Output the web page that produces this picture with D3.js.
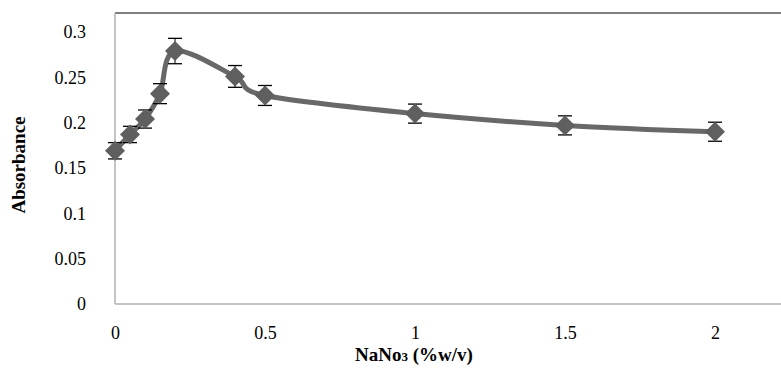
<!DOCTYPE html>
<html>
<head>
<meta charset="utf-8">
<script src="https://cdn.jsdelivr.net/npm/d3@7"></script>
<style>
  body { margin: 0; background: #fff; }
  svg text { font-family: "Liberation Serif", "Times New Roman", Times, "DejaVu Serif", serif !important; }
</style>
</head>
<body>
<div id="chart"></div>
<script>
const width = 781;
const height = 369;

// data
const nano3 = [0, 0.05, 0.1, 0.15, 0.2, 0.4, 0.5, 1, 1.5, 2];
const absorbance = [0.169, 0.187, 0.204, 0.232, 0.279, 0.251, 0.23, 0.21, 0.197, 0.19];
const errors = [0.009, 0.009, 0.01, 0.011, 0.014, 0.012, 0.011, 0.0105, 0.0105, 0.0105];
const xTicks = [0, 0.5, 1, 1.5, 2];
const yTicks = [0, 0.05, 0.1, 0.15, 0.2, 0.25, 0.3];

const plotLeft = 115;
const plotTop = 13;
const plotBottom = 304;

const x = d3.scaleLinear().domain([0, 2]).range([plotLeft, 715]);
const y = d3.scaleLinear().domain([0, 0.3]).range([plotBottom, 32]);

const svg = d3
  .select('#chart')
  .append('svg')
  .attr('width', width)
  .attr('height', height);

// frame: dark top edge, light axes
svg.append('line')
  .attr('x1', plotLeft).attr('x2', width)
  .attr('y1', plotTop).attr('y2', plotTop)
  .attr('stroke', '#555').attr('stroke-width', 1.5);

const xAxis = svg.append('g')
  .attr('transform', `translate(0,${plotBottom})`)
  .call(d3.axisBottom(x).tickValues(xTicks).tickSize(0).tickPadding(22).tickFormat(d3.format('')));
xAxis.select('.domain').remove();
xAxis.append('line')
  .attr('x1', plotLeft).attr('x2', width)
  .attr('stroke', '#b0b0b0').attr('stroke-width', 1.5);

const yAxis = svg.append('g')
  .attr('transform', `translate(${plotLeft},0)`)
  .call(d3.axisLeft(y).tickValues(yTicks).tickSize(0).tickPadding(29).tickFormat(d3.format('')));
yAxis.select('.domain').remove();
yAxis.append('line')
  .attr('y1', plotTop).attr('y2', plotBottom)
  .attr('stroke', '#b0b0b0').attr('stroke-width', 1.5);

svg.selectAll('g').attr('font-family', null).attr('font-size', null);
svg.selectAll('.tick text')
  .style('font-size', '18px')
  .attr('fill', '#000');

// titles
svg.append('text')
  .attr('x', 414).attr('y', 361)
  .attr('text-anchor', 'middle')
  .style('font-size', '19px').style('font-weight', 'bold')
  .html('NaNo<tspan font-size="13px">3</tspan> (%w/v)');

svg.append('text')
  .attr('transform', 'translate(25,165) rotate(-90)')
  .attr('text-anchor', 'middle')
  .style('font-size', '19px').style('font-weight', 'bold')
  .text('Absorbance');

const pts = nano3.map((d, i) => ({ x: d, y: absorbance[i], e: errors[i] }));

// smoothed line
const line = d3.line()
  .x((d) => x(d.x))
  .y((d) => y(d.y))
  .curve(d3.curveCardinal);

svg.append('path')
  .datum(pts)
  .attr('d', line)
  .attr('fill', 'none')
  .attr('stroke', '#686868')
  .attr('stroke-width', 5);

// error bars
const eb = svg.selectAll('.err').data(pts).enter().append('g').classed('err', true);
eb.append('line')
  .attr('x1', (d) => x(d.x)).attr('x2', (d) => x(d.x))
  .attr('y1', (d) => y(d.y - d.e)).attr('y2', (d) => y(d.y + d.e))
  .attr('stroke', '#000').attr('stroke-width', 1);
[-1, 1].forEach((s) => {
  eb.append('line')
    .attr('x1', (d) => x(d.x) - 7).attr('x2', (d) => x(d.x) + 7)
    .attr('y1', (d) => y(d.y + s * d.e)).attr('y2', (d) => y(d.y + s * d.e))
    .attr('stroke', '#000').attr('stroke-width', 1.3);
});

// diamond markers
const r = 10;
svg.selectAll('.marker')
  .data(pts)
  .enter()
  .append('path')
  .classed('marker', true)
  .attr('d', (d) => {
    const cx = x(d.x), cy = y(d.y);
    return `M${cx},${cy - r}L${cx + r},${cy}L${cx},${cy + r}L${cx - r},${cy}Z`;
  })
  .attr('fill', '#5f5f5f');
</script>
</body>
</html>
